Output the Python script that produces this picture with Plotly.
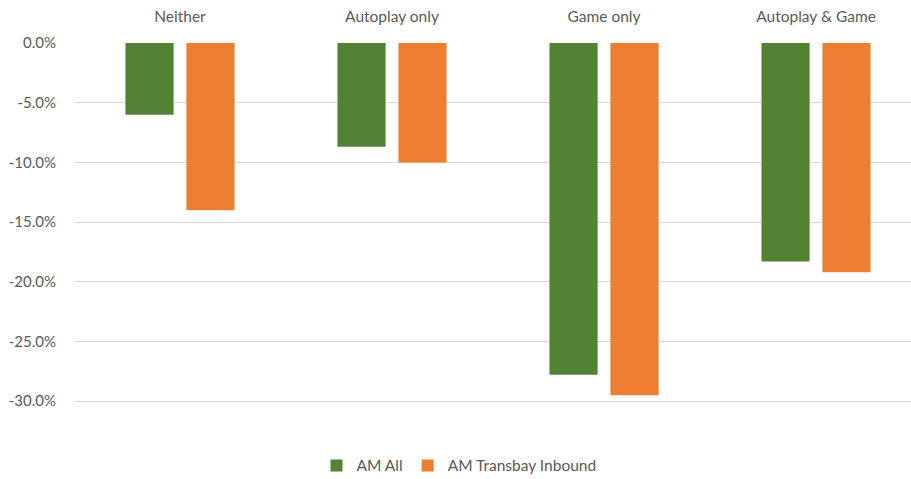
import plotly.graph_objects as go

categories = ["Neither", "Autoplay only", "Game only", "Autoplay & Game"]
am_all = [-0.060, -0.087, -0.278, -0.183]
am_transbay = [-0.140, -0.100, -0.295, -0.192]
series_names = ["AM All", "AM Transbay Inbound"]
tick_vals = [0, -0.05, -0.10, -0.15, -0.20, -0.25, -0.30]
tick_text = ["0.0%", "-5.0%", "-10.0%", "-15.0%", "-20.0%", "-25.0%", "-30.0%"]

GREEN = "#548235"
ORANGE = "#ED7D31"
TEXT = "#595959"
FONT = "Lato, 'Open Sans', sans-serif"

fig = go.Figure()
fig.add_trace(go.Bar(x=categories, y=am_all, name=series_names[0],
                     marker=dict(color=GREEN, line=dict(width=0))))
fig.add_trace(go.Bar(x=categories, y=am_transbay, name=series_names[1],
                     marker=dict(color=ORANGE, line=dict(width=0))))

fig.update_layout(
    width=911, height=479,
    margin=dict(l=74, r=0, t=43, b=54, autoexpand=False),
    paper_bgcolor="white", plot_bgcolor="white",
    barmode="group", bargap=0.425, bargroupgap=0.21,
    font=dict(family=FONT, color=TEXT, size=13),
    showlegend=True,
    legend=dict(orientation="h", x=0.46, xanchor="center", y=-0.107, yanchor="middle",
                font=dict(size=15.5, color=TEXT), itemwidth=30, traceorder="normal"),
    xaxis=dict(side="top", range=[-0.5, 3.448], showgrid=False, showline=False,
               zeroline=False, ticks="outside", ticklen=14, tickcolor="rgba(0,0,0,0)",
               tickfont=dict(size=15.5, color=TEXT, family=FONT)),
    yaxis=dict(range=[-0.32, 0], tickvals=tick_vals, ticktext=tick_text,
               showgrid=True, gridcolor="#D9D9D9", gridwidth=1, zeroline=False,
               showline=False, ticks="outside", ticklen=14, tickcolor="rgba(0,0,0,0)",
               tickfont=dict(size=15, color=TEXT, family=FONT)),
)

fig.write_html("out.html")
